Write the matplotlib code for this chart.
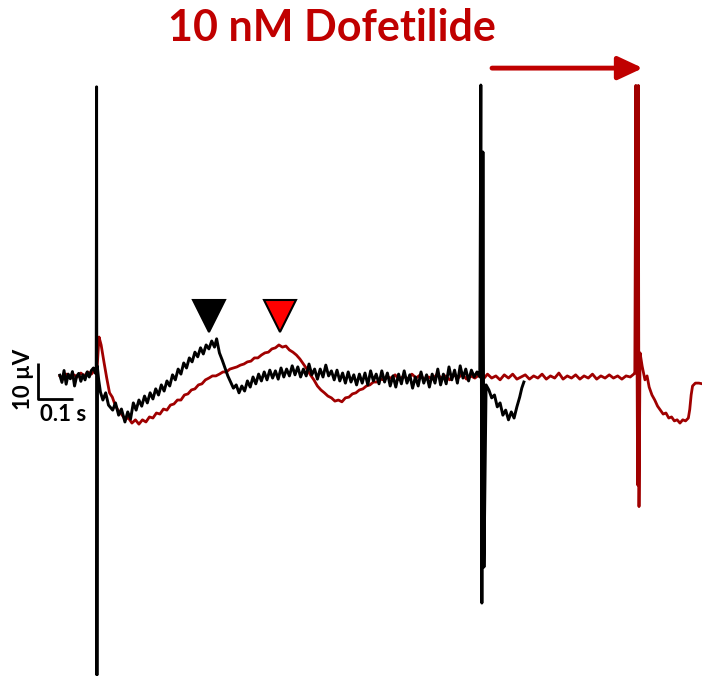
import matplotlib
matplotlib.use("Agg")
import matplotlib.pyplot as plt

# ---- data (time in ms, potential in µV) ----
black_t = [-106, -100, -94, -88, -82, -76, -70, -64, -58, -52, -46, -40, -34, -28, -22, -16, -10, -4,
           -2, -1, 0, 1,
           5, 10, 17, 25, 33, 45, 53, 62, 70, 80, 88, 96, 104, 112, 120, 128, 136, 144, 152, 160,
           168, 176, 184, 192, 200, 208, 216, 224, 232, 240, 248, 256, 264, 272, 280, 288, 296, 304,
           312, 320, 328, 336, 342, 350, 358, 366, 374, 382, 390, 398, 406, 414, 422, 430, 438, 446,
           454, 462, 470, 478, 486, 494, 502, 510, 518, 526, 534, 542, 550, 558, 566, 574, 582, 590,
           598, 606, 614, 622, 630, 638, 646, 654, 662, 670, 678, 686, 694, 702, 710, 718, 726, 734,
           742, 750, 758, 766, 774, 782, 790, 798, 806, 814, 822, 830, 838, 846, 854, 862, 870, 878,
           886, 894, 902, 910, 918, 926, 934, 942, 950, 958, 966, 974, 982, 990, 998, 1006, 1014, 1022,
           1030, 1038, 1046, 1054, 1062, 1070, 1078, 1086, 1094,
           1097, 1100, 1103, 1106,
           1112, 1120, 1128, 1136, 1144, 1152, 1160, 1168, 1176, 1184, 1192, 1200, 1208, 1214, 1220]
black_v = [0.5, -1.5, 1.8, -2.0, 0.8, -0.5, 1.5, -2.5, 0.2, 1.0, -1.2, 0.6, -0.8, 1.4, 0.0, 1.8, 2.5, 1.0,
           2.0, 80.6, -82.8, 3.0,
           -0.8, -4.2, -6.4, -4.4, -7.8, -9.2, -7.2, -10.6, -8.9, -12.5, -9.7, -11.7, -7.2, -9.2, -6.4, -8.1, -5.3, -7.2, -4.4, -6.1,
           -3.3, -5.0, -2.2, -3.9, -1.1, -2.5, 0.6, -0.8, 2.2, 0.8, 3.9, 2.5, 5.3, 4.2, 6.9, 5.6, 8.1, 6.4,
           8.9, 7.8, 10.0, 8.3, 10.6, 6.7, 4.7, 2.5, 0.3, -1.4, -3.1, -2.2, -4.4, -2.5, -3.9, -1.1, -2.8, 0.0,
           -1.9, 0.8, -1.1, 1.4, -0.8, 1.9, -0.3, 1.7, -0.6, 2.5, 0.0, 2.2, 0.3, 3.1, 0.6, 2.8, 0.0, 2.2,
           0.3, 3.6, 0.6, 2.2, -0.6, 2.2, 0.0, 3.3, 0.3, 1.7, -0.8, 1.9, -1.1, 1.1, -1.7, 1.4, -1.4, 0.6,
           -2.2, 0.8, -1.7, 1.1, -2.2, 1.7, -1.1, 0.8, -1.9, 1.7, -1.4, 1.1, -2.5, 0.3, -2.8, 0.8, -1.9, 1.7,
           -1.7, 0.6, -3.1, 0.0, -2.5, 1.4, -1.7, 0.6, -2.8, 0.8, -1.7, 2.2, -2.2, 0.8, -1.9, 2.8, -0.8, 1.9,
           -1.7, 3.1, -0.3, 2.2, -1.1, 1.9, 0.0, 1.4, 0.0,
           81.1, -62.8, 62.5, -52.8,
           -2.2, -3.6, -5.8, -5.0, -8.3, -7.2, -10.6, -9.2, -11.9, -9.7, -11.4, -8.3, -5.6, -3.1, -1.4]

red_t = [-106, -96, -86, -76, -66, -56, -46, -36, -26, -16, -6, 0,
         6, 12, 20, 28, 36, 44, 52, 60, 70, 80, 90, 100, 110, 120, 130, 140, 150, 160, 170, 180,
         190, 200, 210, 220, 230, 240, 250, 260, 270, 280, 290, 300, 310, 320, 330, 340, 350, 360,
         370, 380, 390, 400, 410, 420, 430, 440, 450, 460, 470, 480, 490, 500, 510, 520, 530, 540,
         550, 560, 570, 580, 590, 600, 610, 620, 630, 640, 650, 660, 670, 680, 690, 700, 710, 720,
         730, 740, 750, 760, 770, 780, 790, 800, 810, 820, 830,
         840, 852, 864, 876, 888, 900, 912, 924, 936, 948, 960, 972, 984, 996, 1008, 1020, 1032, 1044,
         1056, 1068, 1080, 1092, 1104, 1116, 1128, 1140, 1152, 1164, 1176, 1188, 1200, 1212, 1224, 1236,
         1248, 1260, 1272, 1284, 1296, 1308, 1320, 1332, 1344, 1356, 1368, 1380, 1392, 1404, 1416, 1428,
         1440, 1452, 1464, 1476, 1488, 1500, 1512, 1524, 1534,
         1537, 1540, 1545, 1547, 1549,
         1552, 1558, 1566, 1572, 1578, 1586, 1594, 1602, 1610, 1618, 1626, 1634, 1642, 1650, 1658,
         1666, 1674, 1682, 1690, 1694, 1698, 1702, 1710, 1720, 1730]
red_v = [0.3, -0.6, 0.8, -0.3, 0.6, 0.0, 1.1, 0.3, 1.4, 0.8, 1.9, 1.9,
         11.1, 8.9, 4.2, -0.3, -4.4, -5.6, -7.8, -9.2, -10.3, -11.7, -11.4, -12.8, -11.9, -13.1, -11.9, -12.5, -11.1, -11.4, -10.0, -10.3,
         -8.9, -9.2, -7.8, -7.5, -6.4, -6.4, -5.0, -4.7, -3.6, -3.3, -2.2, -1.9, -0.8, -0.3, 0.3, 0.3, 0.8, 1.4,
         1.4, 2.2, 2.5, 2.8, 3.3, 3.6, 4.2, 4.4, 5.3, 5.3, 6.1, 6.7, 6.9, 7.8, 8.1, 8.9, 8.3, 8.6,
         7.5, 6.9, 6.1, 5.0, 3.6, 2.2, 0.6, -0.8, -2.5, -3.6, -4.4, -5.3, -5.8, -6.7, -6.4, -6.9, -5.8, -5.6,
         -4.7, -4.4, -3.6, -3.3, -2.5, -2.2, -1.4, -1.4, -0.6, -0.8, 0.0,
         -0.3, 0.6, -0.8, 0.3, -0.6, 0.8, -0.3, 0.6, -0.8, 0.0, -0.6, 0.8, -0.3, 0.3, -0.8, 0.6, -0.3, 0.8,
         -0.6, 0.3, -0.3, 0.6, -0.6, 0.8, -0.3, 0.3, -0.8, 0.6, -0.3, 0.8, -0.6, 0.0, 0.6, -0.6,
         0.3, -0.3, 0.8, -0.6, 0.3, -0.3, 1.1, -0.6, 0.3, -0.3, 0.6, -0.6, 0.3, -0.3, 0.8, -0.6,
         0.3, -0.3, 0.6, -0.3, 0.3, -0.6, 0.3, 0.0, 0.8,
         1.0, 81.0, -30.0, 81.0, -36.0,
         6.7, 3.0, -0.8, 0.3, -2.8, -5.0, -6.4, -8.1, -9.2, -10.3, -10.0, -11.4, -11.1, -12.2, -11.9,
         -12.8, -11.9, -12.2, -11.4, -9.0, -5.0, -2.5, -1.7, -1.7, -1.9]

marker_t = [321, 524]          # arrowhead markers (ms)
marker_v = [16.9, 16.9]
marker_colors = ["#000000", "#ff0000"]

scale_t0 = -169                # scale bar origin (ms)
scale_v0 = -6.1                # µV
scale_dt = 100                 # 0.1 s
scale_dv = 10                  # 10 µV

arrow_t = [1129, 1560]
arrow_v = 85.8

title_text = "10 nM Dofetilide"
dark_red = "#c00000"
trace_red = "#a00000"

fig = plt.figure(figsize=(7.02, 6.76), dpi=100)
ax = fig.add_axes([0, 0, 1, 1])
ax.set_xlim(-277, 1729)
ax.set_ylim(-83.06, 104.72)
ax.axis("off")

ax.plot(red_t, red_v, color=trace_red, lw=2.0, zorder=2)
ax.plot(black_t, black_v, color="#000000", lw=2.1, zorder=3)

for t, v, c in zip(marker_t, marker_v, marker_colors):
    ax.plot([t], [v], marker="v", markersize=23, markerfacecolor=c,
            markeredgecolor="#000000", markeredgewidth=1.5, linestyle="none", zorder=4)

# scale bar
ax.plot([scale_t0, scale_t0, scale_t0 + scale_dt],
        [scale_v0 + scale_dv, scale_v0, scale_v0], color="black", lw=2.0,
        solid_capstyle="butt", zorder=3)
ax.text(scale_t0 - 42, scale_v0 + scale_dv / 2 + 0.5, "10 µV", rotation=90,
        ha="center", va="center", fontsize=16, fontweight="bold", family="Lato")
ax.text(scale_t0 + 72, scale_v0 - 4.4, "0.1 s", ha="center", va="center",
        fontsize=16, fontweight="bold", family="Lato")

# arrow
ax.annotate("", xy=(arrow_t[1], arrow_v), xytext=(arrow_t[0], arrow_v),
            arrowprops=dict(arrowstyle="-|>,head_length=0.75,head_width=0.35",
                            mutation_scale=20, lw=3.5, color=dark_red,
                            shrinkA=0, shrinkB=0))

ax.text(0.473, 0.958, title_text, transform=ax.transAxes, ha="center", va="center",
        fontsize=31, fontweight="bold", color=dark_red, family="Lato")

fig.savefig("out.png", dpi=100)
